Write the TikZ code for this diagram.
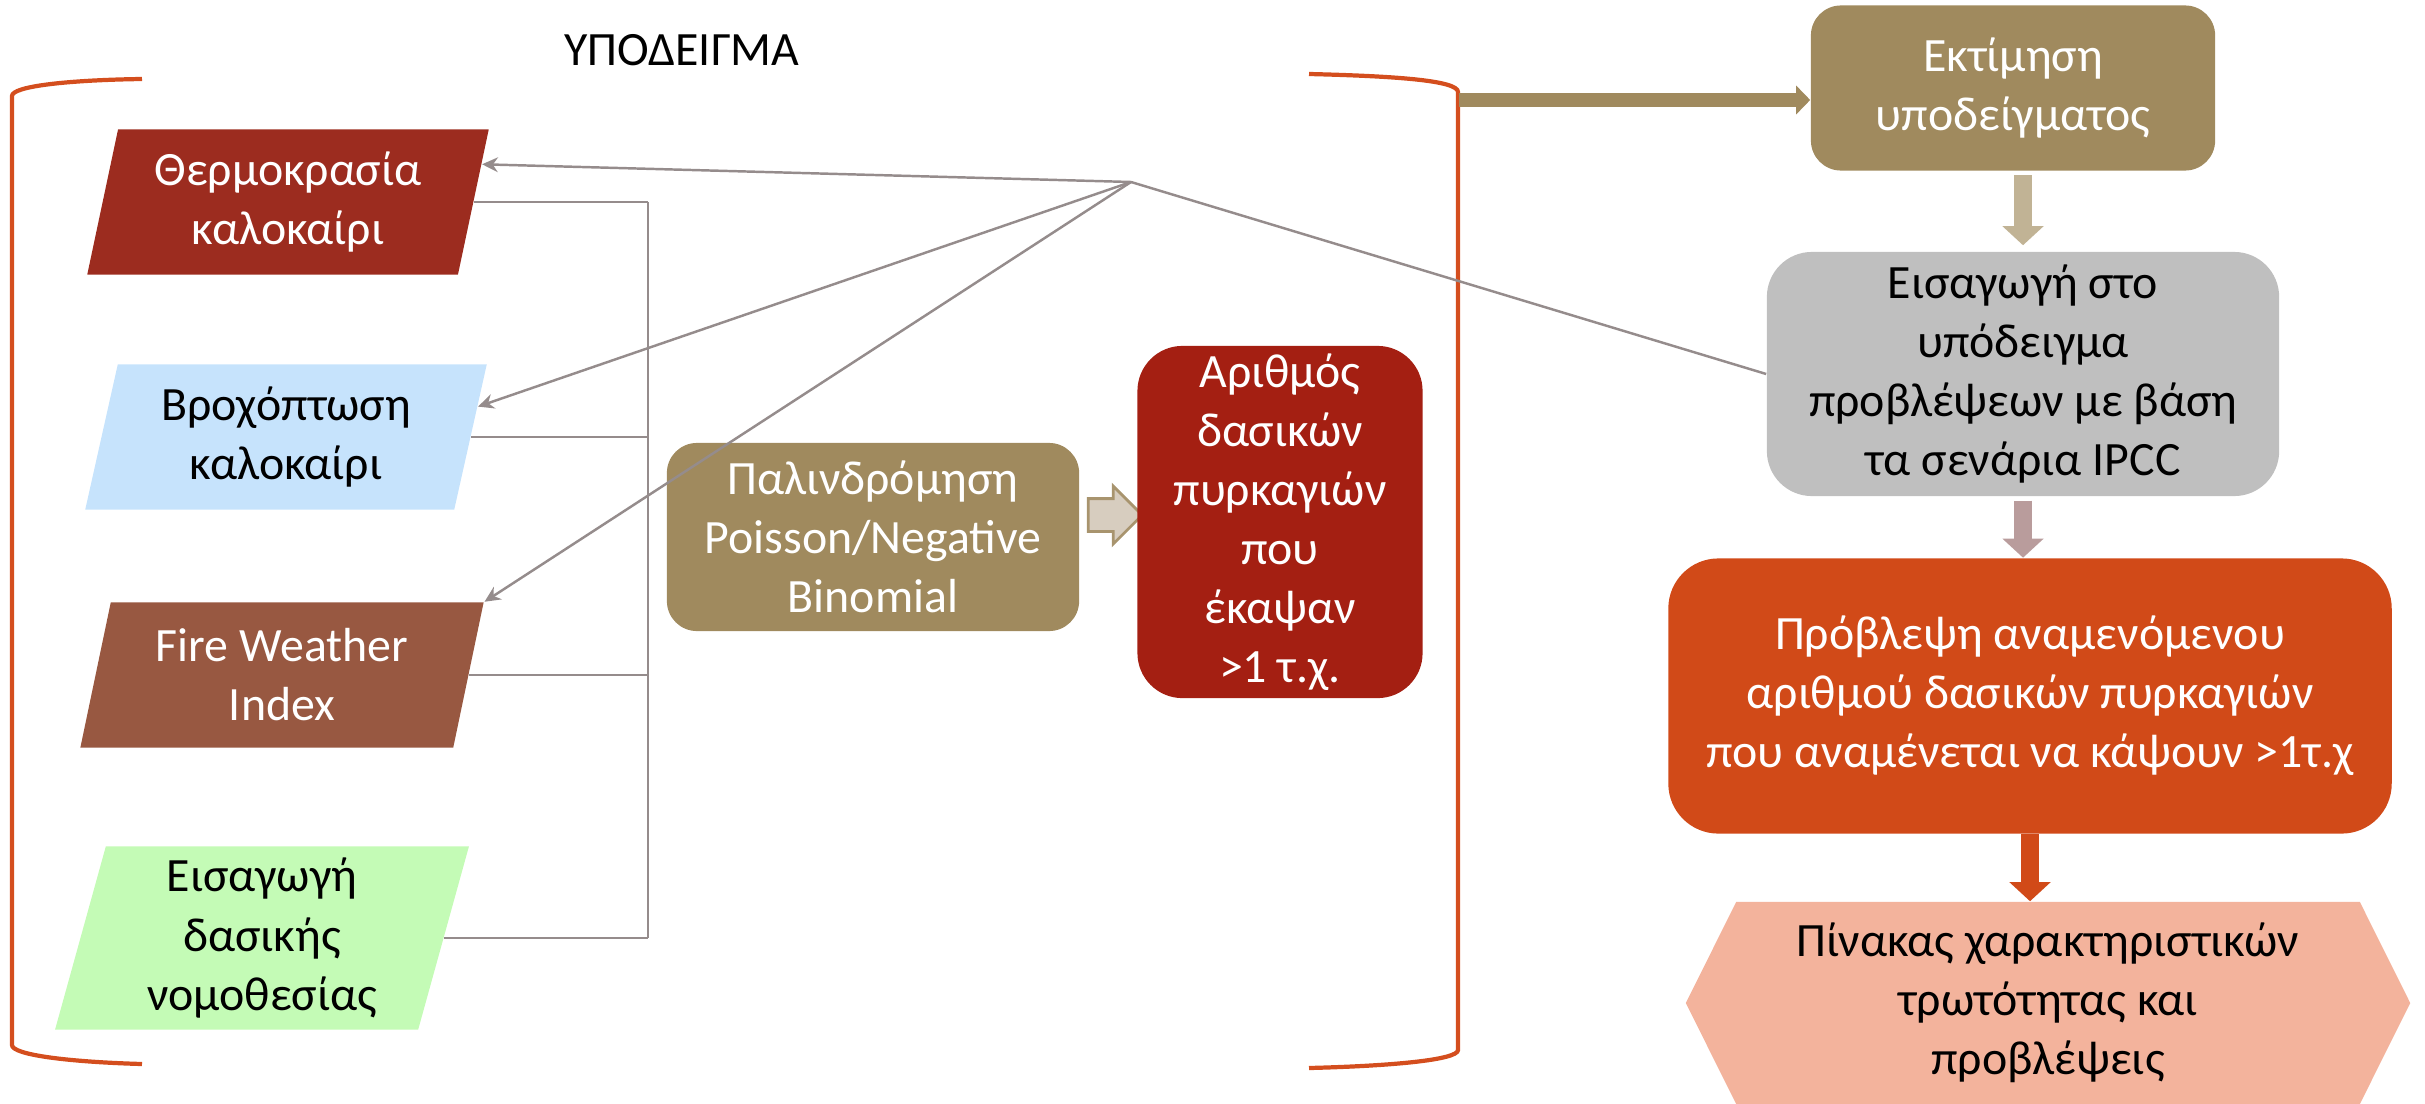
\documentclass[tikz,border=0pt]{standalone}
\usepackage{fontspec}
\setmainfont{Carlito}
\usetikzlibrary{shapes.geometric,shapes.symbols,shapes.arrows,arrows.meta}

\definecolor{brick}{HTML}{9C2C1F}
\definecolor{skyblue}{HTML}{C6E3FC}
\definecolor{fwibrown}{HTML}{985841}
\definecolor{mint}{HTML}{C4FBB6}
\definecolor{tan}{HTML}{A08A5E}
\definecolor{paletan}{HTML}{C1B395}
\definecolor{graybox}{HTML}{BFBFBF}
\definecolor{mauve}{HTML}{B99C9C}
\definecolor{flame}{HTML}{D14A18}
\definecolor{salmon}{HTML}{F3B39C}
\definecolor{countred}{HTML}{A41F12}
\definecolor{linkgray}{HTML}{958C8C}
\definecolor{pushfill}{HTML}{D7CDBF}
\definecolor{pushedge}{HTML}{A8946E}
\definecolor{bracketred}{HTML}{D44E1E}

\begin{document}
\begin{tikzpicture}[
	x=0.01cm, y=-0.01cm,
	font=\fontsize{13.6}{16.8}\selectfont,
	inbox/.style={
		trapezium, trapezium stretches=true,
		trapezium left angle=77,
		trapezium right angle=103,
		align=center,
		minimum width=4.04cm,
		minimum height=1.45cm,
		inner sep=1pt
	},
	rbox/.style={
		rounded corners=0.3cm,
		align=center,
		inner sep=2pt
	},
	push/.style={
		single arrow, draw=pushedge, fill=pushfill,
		line width=0.8pt,
		inner xsep=0pt, inner ysep=0.15cm,
		minimum height=0.54cm,
		single arrow head extend=0.125cm
	},
	link/.style={draw=linkgray, line width=0.7pt},
	pointer/.style={link, -{Stealth[length=4.5pt,width=4.2pt]}},
	fat/.style={draw=#1, line width=0.18cm, -{Triangle[length=0.19cm,width=0.4cm]}},
	bracket/.style={draw=bracketred, line width=1.2pt}
	]
	\useasboundingbox (0,0) rectangle (2425,1103);

	\node (title) at (682,50) {ΥΠΟΔΕΙΓΜΑ};

	\node[inbox, fill=brick, text=white] (thermo) at (288,202) {Θερμοκρασία\\καλοκαίρι};
	\node[inbox, fill=skyblue] (rain) at (286,437) {Βροχόπτωση\\καλοκαίρι};
	\node[inbox, fill=fwibrown, text=white] (fwi) at (282,675) {Fire Weather\\Index};
	\node[inbox, fill=mint, minimum width=4.14cm, minimum height=1.83cm] (law) at (262,938) {Εισαγωγή\\δασικής\\νομοθεσίας};

	\node[rbox, fill=tan, text=white, minimum width=4.12cm, minimum height=1.88cm] (reg) at (873,537) {Παλινδρόμηση\\Poisson/Negative\\Binomial};
	\node[push] (step1) at (1107,515) {};
	\node[rbox, rounded corners=0.45cm, fill=countred, text=white, minimum width=2.85cm, minimum height=3.52cm] (count) at (1280,522) {Αριθμός\\δασικών\\πυρκαγιών\\που\\έκαψαν\\>1 τ.χ.};

	\node[rbox, fill=tan, text=white, minimum width=4.04cm, minimum height=1.65cm] (estim) at (2013,88) {Εκτίμηση\\υποδείγματος};
	\node[rbox, rounded corners=0.45cm, fill=graybox, minimum width=5.12cm, minimum height=2.44cm] (ipcc) at (2023,374) {Εισαγωγή στο\\υπόδειγμα\\προβλέψεων με βάση\\τα σενάρια IPCC};
	\node[rbox, rounded corners=0.5cm, fill=flame, text=white, minimum width=7.23cm, minimum height=2.75cm] (predict) at (2030,696) {Πρόβλεψη αναμενόμενου\\αριθμού δασικών πυρκαγιών\\που αναμένεται να κάψουν >1τ.χ};
	\node[signal, signal to=west and east, signal pointer angle=127, fill=salmon, align=center, minimum width=7.24cm, minimum height=2.02cm] (table) at (2048,1003) {Πίνακας χαρακτηριστικών\\τρωτότητας και\\προβλέψεις};

	% brackets round the model
	\draw[bracket] (142,79) .. controls (70,80) and (12,86) .. (12,96) -- (12,1045) .. controls (12,1055) and (70,1062) .. (142,1064);
	\draw[bracket] (1309,74) .. controls (1390,76) and (1458,80) .. (1458,92) -- (1458,1050) .. controls (1458,1060) and (1390,1066) .. (1309,1068);

	\coordinate (bus) at (648,0);
	\foreach \n in {thermo,rain,fwi,law}
		\draw[link] (\n.east) -- (\n.east -| bus);
	\draw[link] (thermo.east -| bus) -- (law.east -| bus);

	\coordinate (hub) at (1131,182);
	\draw[pointer] (hub) -- (thermo.11);
	\draw[pointer] (hub) -- (rain.9);
	\draw[pointer] (hub) -- (fwi.top right corner);
	\draw[link] (hub) -- (ipcc.west);

	\coordinate (brtop) at (1459,100);
	\draw[draw=tan, line width=0.14cm, -{Triangle[length=0.14cm,width=0.28cm]}] (brtop) -- (brtop -| estim.west);
	\draw[fat=paletan, shorten <=1.1pt, shorten >=1.7pt] (ipcc.north |- estim.south) -- (ipcc.north);
	\draw[fat=mauve, shorten <=1.1pt] (ipcc.south) -- (ipcc.south |- predict.north);
	\draw[fat=flame] (predict.south) -- (predict.south |- table.north);

\end{tikzpicture}
\end{document}
